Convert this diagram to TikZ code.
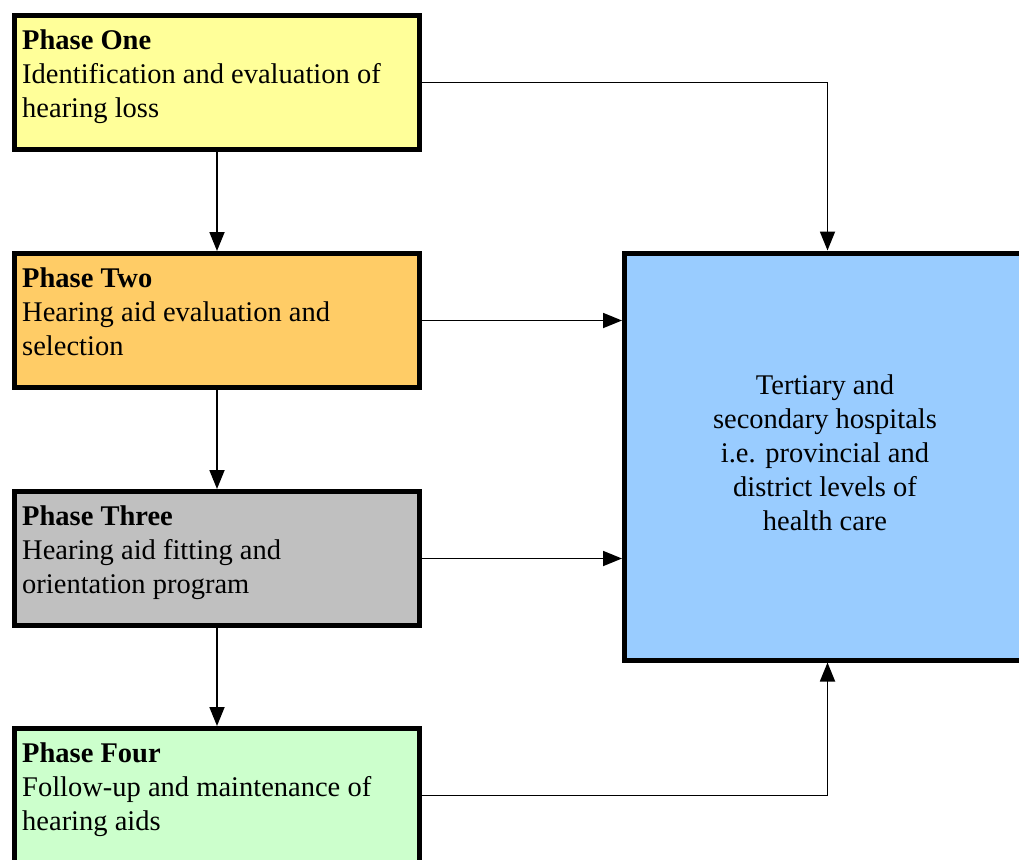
\documentclass[tikz,border=0pt]{standalone}
\usepackage{fontspec}
\setmainfont{Liberation Serif}
\usetikzlibrary{arrows.meta}
\definecolor{cyellow}{HTML}{FFFF99}
\definecolor{corange}{HTML}{FFCC66}
\definecolor{cgray}{HTML}{C0C0C0}
\definecolor{cgreen}{HTML}{CCFFCC}
\definecolor{cblue}{HTML}{99CCFF}
\begin{document}
\begin{tikzpicture}[x=1pt,y=-1pt,
  box/.style={draw=black,line width=5pt,anchor=north west,inner sep=0pt,
    minimum width=405pt,minimum height=134pt},
  txt/.style={anchor=north west,align=left,inner sep=0pt,
    font=\fontsize{28.5}{34}\selectfont},
  conn/.style={line width=1.8pt,-{Triangle[length=19pt,width=15pt]}}]
\useasboundingbox (0,0) rectangle (1019,859);
\clip (0,0) rectangle (1019,859);
\node[box,fill=cyellow] (p1) at (12,13) {};
\node[box,fill=corange] (p2) at (12,251) {};
\node[box,fill=cgray] (p3) at (12,489) {};
\node[box,fill=cgreen] (p4) at (12,726) {};
\node[box,fill=cblue,minimum width=406pt,minimum height=407pt] (hosp) at (622,250.5) {};
\node[txt] (t1) at (22,30) {\textbf{Phase One}\\Identification and evaluation of\\hearing loss};
\node[txt] (t2) at (22,268) {\textbf{Phase Two}\\Hearing aid evaluation and\\selection};
\node[txt] (t3) at (22,506) {\textbf{Phase Three}\\Hearing aid fitting and\\orientation program};
\node[txt] (t4) at (22,743) {\textbf{Phase Four}\\Follow-up and maintenance of\\hearing aids};
\node[txt,anchor=north,align=center] (th) at (825,375) {Tertiary and\\secondary hospitals\\i.e. provincial and\\district levels of\\health care};
\draw[conn] (p1.south) -- (p2.north);
\draw[conn] (p2.south) -- (p3.north);
\draw[conn] (p3.south) -- (p4.north);
\draw[conn] (p1.east) -| (hosp.north);
\draw[conn] (p2.east) -- (p2.east -| hosp.west);
\draw[conn] (p3.east) -- (p3.east -| hosp.west);
\draw[conn] (p4.east) -| (hosp.south);
\end{tikzpicture}
\end{document}
